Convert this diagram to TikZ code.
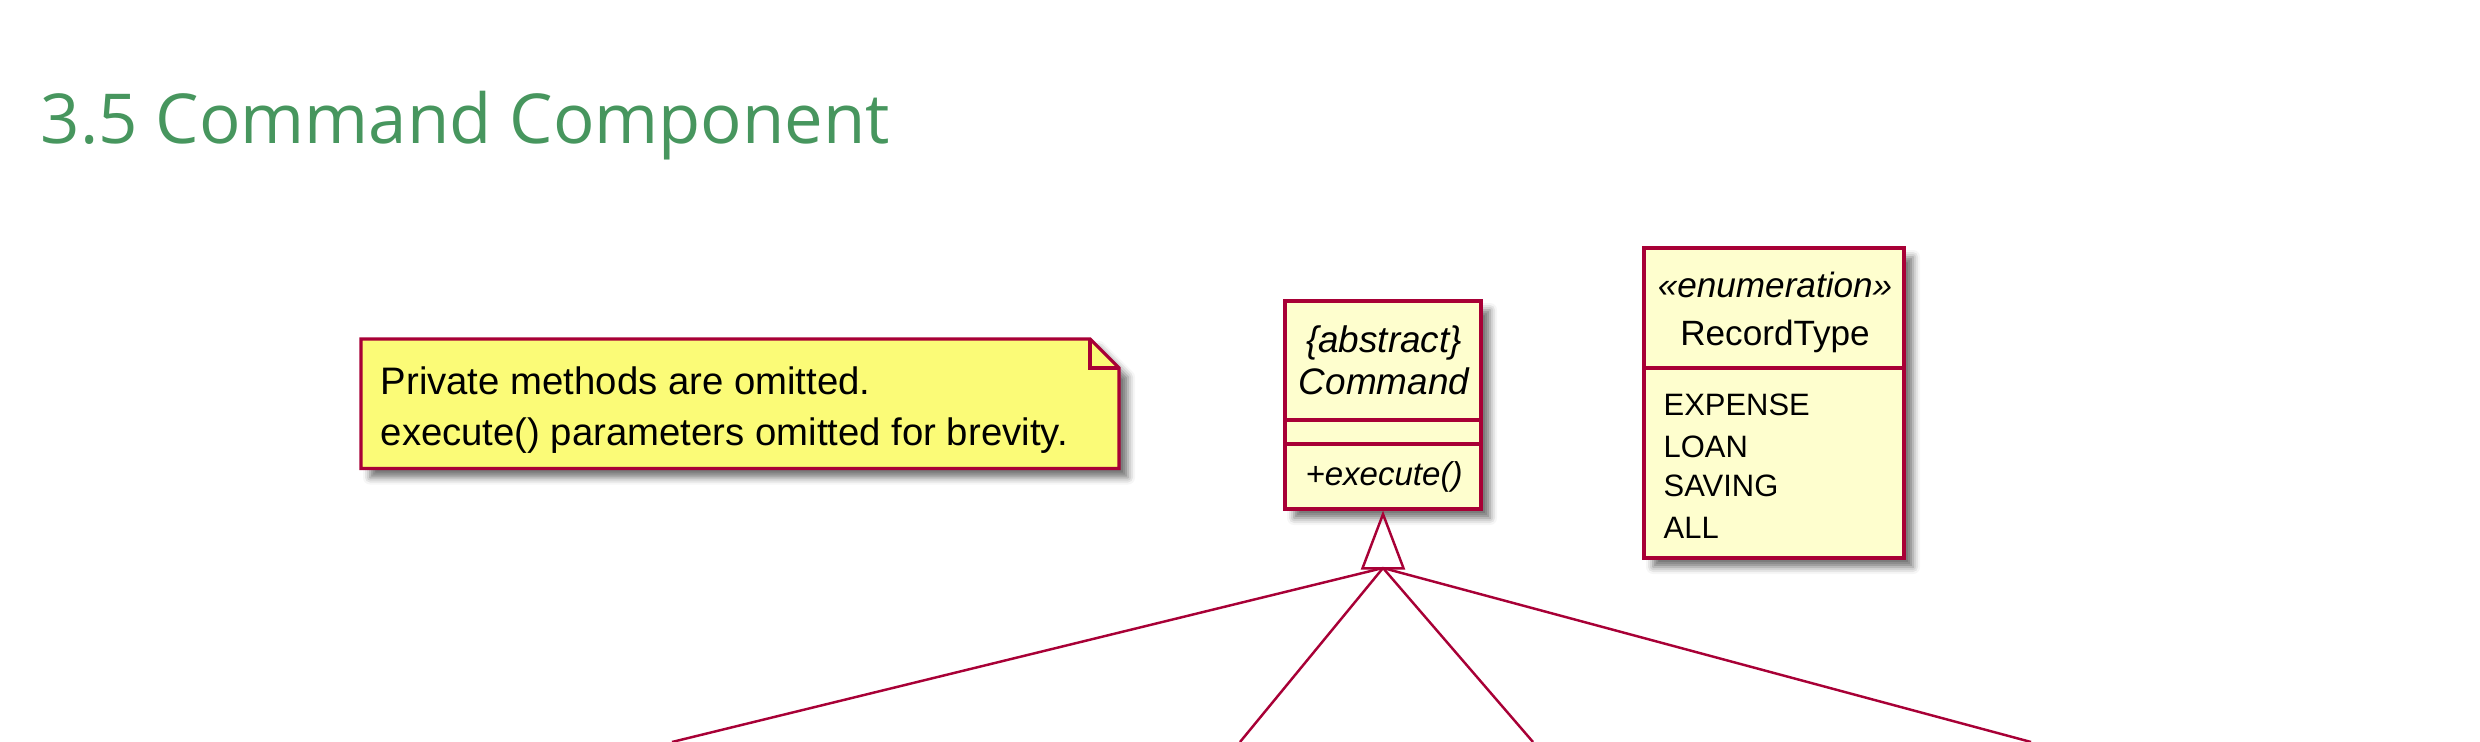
\documentclass[tikz,border=0pt]{standalone}
\usepackage{fontspec}
\setmainfont{Liberation Sans}
\newfontfamily\titlefont{Open Sans}
\usepackage{tikz}
\usetikzlibrary{arrows.meta,shadows.blur}

\definecolor{umlred}{RGB}{168,0,54}
\definecolor{classfill}{RGB}{254,254,206}
\definecolor{notefill}{RGB}{251,251,119}
\definecolor{headgreen}{RGB}{71,150,94}

\tikzset{
	umlshadow/.style={blur shadow={shadow xshift=0.09cm, shadow yshift=-0.09cm,
		shadow blur radius=0.07cm, shadow opacity=55}},
	umlbox/.style={draw=umlred, line width=0.9pt, fill=classfill, inner sep=0pt, umlshadow},
	umlline/.style={draw=umlred, line width=0.7pt},
	umltext/.style={inner sep=0pt, anchor=base},
	itemtext/.style={inner sep=0pt, anchor=base west, font=\fontsize{8.8}{10}\selectfont},
}

\begin{document}
\begin{tikzpicture}
	\useasboundingbox (0,0) rectangle (24.80,-7.42);

	\node (title) at (0.40,-1.44) [anchor=base west, inner sep=0pt, text=headgreen,
		font=\titlefont\fontsize{19.6}{24}\selectfont] {3.5 Command Component};

	\filldraw[draw=umlred, line width=0.9pt, fill=notefill, umlshadow]
		(3.61,-3.39) -- (10.90,-3.39) -- (11.19,-3.68) -- (11.19,-4.685) -- (3.61,-4.685) -- cycle;
	\draw[draw=umlred, line width=0.9pt] (10.90,-3.39) -- (10.90,-3.68) -- (11.19,-3.68);
	\node (noteA) at (3.80,-3.94) [inner sep=0pt, anchor=base west,
		font=\fontsize{10.9}{14}\selectfont] {Private methods are omitted.};
	\node (noteB) at (3.80,-4.45) [inner sep=0pt, anchor=base west,
		font=\fontsize{10.9}{14}\selectfont] {execute() parameters omitted for brevity.};

	\node (cmd) at (13.83,-4.05) [umlbox, minimum width=1.96cm, minimum height=2.08cm] {};
	\draw[draw=umlred, line width=0.9pt] (cmd.west |- 0,-4.20) -- (cmd.east |- 0,-4.20);
	\draw[draw=umlred, line width=0.9pt] (cmd.west |- 0,-4.44) -- (cmd.east |- 0,-4.44);
	\node (cmdstereo) at (13.84,-3.52) [umltext, font=\itshape\fontsize{10.5}{12}\selectfont] {\{abstract\}};
	\node (cmdname) at (13.84,-3.94) [umltext, font=\itshape\fontsize{10.5}{12}\selectfont] {Command};
	\node (cmdexec) at (13.84,-4.85) [umltext, font=\itshape\fontsize{9.4}{11}\selectfont] {+execute()};

	\node (rec) at (17.74,-4.03) [umlbox, minimum width=2.60cm, minimum height=3.10cm] {};
	\draw[draw=umlred, line width=0.9pt] (rec.west |- 0,-3.68) -- (rec.east |- 0,-3.68);
	\node (recstereo) at (17.75,-2.98) [umltext, font=\itshape\fontsize{10}{12}\selectfont] {«enumeration»};
	\node (recname) at (17.75,-3.45) [umltext, font=\fontsize{10}{12}\selectfont] {RecordType};
	\node (expense) at (16.63,-4.15) [itemtext] {EXPENSE};
	\node (loan) at (16.63,-4.57) [itemtext] {LOAN};
	\node (saving) at (16.63,-4.96) [itemtext] {SAVING};
	\node (all) at (16.63,-5.38) [itemtext] {ALL};

	\coordinate (hub) at (13.83,-5.68);
	\coordinate (subA) at (6.72,-7.42);
	\coordinate (subB) at (12.40,-7.42);
	\coordinate (subC) at (15.33,-7.42);
	\coordinate (subD) at (20.31,-7.42);
	\foreach \sub in {subA,subB,subC,subD}
		\draw[umlline] (hub) -- (\sub);
	\draw[umlline, -{Triangle[open, length=0.59cm, width=0.44cm]}] (hub) -- (cmd.south);
\end{tikzpicture}
\end{document}
